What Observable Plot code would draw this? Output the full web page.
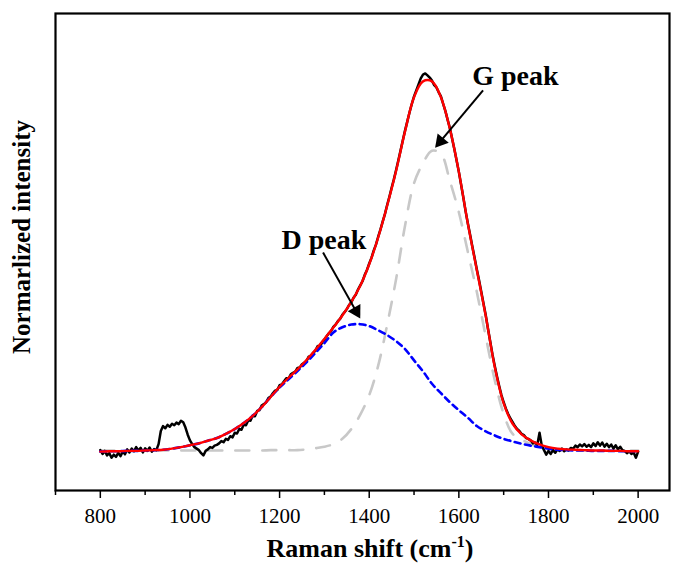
<!DOCTYPE html>
<html><head><meta charset="utf-8">
<script src="https://cdn.jsdelivr.net/npm/d3@7"></script>
<script src="https://cdn.jsdelivr.net/npm/@observablehq/plot@0.6"></script>
<style>body{margin:0;background:#fff} svg{display:block}</style>
</head><body><div id="chart"></div>
<script>
// Raman spectrum (cm-1), sampled every 5 cm-1 from 800 to 2000
const spectrumShift = d3.range(800, 2001, 5);
const spectrumIntensity = [
 0.004,-0.006,0.002,-0.010,-0.004,-0.016,-0.008,-0.014,-0.003,-0.012,
 0.000,-0.007,0.006,-0.002,0.008,0.001,0.012,0.003,0.010,-0.002,
 0.009,0.002,0.011,0.000,0.007,0.004,0.020,0.055,0.068,0.062,
 0.071,0.066,0.074,0.070,0.077,0.073,0.082,0.078,0.064,0.045,
 0.030,0.020,0.012,0.008,0.004,-0.004,-0.010,0.002,0.006,0.012,
 0.010,0.016,0.018,0.022,0.028,0.025,0.034,0.031,0.041,0.038,
 0.050,0.048,0.060,0.058,0.072,0.070,0.083,0.082,0.096,0.094,
 0.108,0.110,0.122,0.126,0.131,0.142,0.146,0.155,0.162,0.164,
 0.176,0.178,0.187,0.195,0.194,0.205,0.209,0.212,0.222,0.223,
 0.232,0.236,0.240,0.252,0.254,0.262,0.268,0.280,0.278,0.290,
 0.297,0.306,0.314,0.320,0.331,0.337,0.346,0.352,0.363,0.370,
 0.378,0.389,0.396,0.408,0.416,0.430,0.441,0.452,0.469,0.482,
 0.499,0.514,0.533,0.549,0.570,0.589,0.610,0.630,0.654,0.676,
 0.700,0.722,0.747,0.773,0.799,0.826,0.852,0.876,0.900,0.922,
 0.942,0.958,0.974,0.990,1.000,1.003,0.998,0.992,0.984,0.972,
 0.966,0.953,0.942,0.922,0.903,0.880,0.858,0.830,0.802,0.772,
 0.742,0.708,0.674,0.638,0.606,0.576,0.545,0.515,0.484,0.455,
 0.424,0.393,0.362,0.326,0.292,0.258,0.228,0.200,0.174,0.150,
 0.131,0.114,0.100,0.088,0.078,0.068,0.060,0.055,0.047,0.044,
 0.036,0.034,0.030,0.022,0.024,0.018,0.050,0.016,0.004,-0.008,
 0.002,-0.006,0.004,-0.003,0.006,0.002,0.008,0.001,0.006,0.003,
 0.010,0.008,0.016,0.012,0.019,0.014,0.020,0.013,0.018,0.012,
 0.022,0.015,0.025,0.016,0.024,0.013,0.021,0.012,0.019,0.008,
 0.017,0.006,0.013,0.004,0.002,-0.004,0.001,-0.006,-0.002,-0.016,
 0.000
];

// Fitted curves, sampled every 20 cm-1 from 800 to 2000
const fitShift = d3.range(800, 2001, 20);
const fitTotal = [
 0.000,0.001,0.001,0.002,0.002,0.003,0.004,0.005,0.008,0.012,
 0.017,0.022,0.029,0.036,0.047,0.060,0.076,0.095,0.118,0.145,
 0.172,0.196,0.218,0.243,0.270,0.299,0.329,0.361,0.397,0.440,
 0.497,0.568,0.652,0.745,0.850,0.940,0.982,0.982,0.940,0.856,
 0.742,0.605,0.482,0.360,0.225,0.128,0.074,0.046,0.030,0.019,
 0.012,0.008,0.006,0.005,0.004,0.003,0.003,0.002,0.002,0.001,
 0.001
];
const dBand = [
 0.000,0.001,0.001,0.002,0.002,0.003,0.004,0.005,0.008,0.012,
 0.017,0.022,0.029,0.036,0.047,0.060,0.076,0.095,0.118,0.145,
 0.170,0.192,0.214,0.237,0.262,0.288,0.316,0.330,0.337,0.338,
 0.333,0.322,0.309,0.293,0.272,0.242,0.213,0.180,0.155,0.131,
 0.110,0.090,0.068,0.054,0.043,0.034,0.027,0.021,0.016,0.012,
 0.008,0.005,0.004,0.003,0.003,0.002,0.002,0.002,0.001,0.001,
 0.001
];
const gBand = [
 0.003,0.003,0.003,0.003,0.003,0.003,0.003,0.003,0.003,0.003,
 0.003,0.003,0.003,0.003,0.003,0.003,0.003,0.003,0.003,0.004,
 0.004,0.004,0.004,0.006,0.009,0.013,0.020,0.034,0.060,0.098,
 0.150,0.228,0.336,0.458,0.600,0.712,0.765,0.798,0.790,0.718,
 0.635,0.530,0.424,0.305,0.190,0.100,0.047,0.032,0.020,0.012,
 0.007,0.005,0.004,0.003,0.003,0.003,0.003,0.003,0.003,0.003,
 0.003
];

// Annotations
const peakLabels = ["G peak", "D peak"];
const peakLabelX = [1726, 1299];
const peakLabelY = [0.995, 0.562];
const arrowFromX = [1654, 1297];
const arrowFromY = [0.958, 0.528];
const arrowToX = [1547, 1380];
const arrowToY = [0.806, 0.353];

const majorTicks = [800, 1000, 1200, 1400, 1600, 1800, 2000];
const minorTicks = [700, 900, 1100, 1300, 1500, 1700, 1900];

const xDomain = [700, 2070];
const yDomain = [-0.103, 1.162];
const M = {left: 55, right: 4, top: 13, bottom: 75};
const W = 673, H = 565;

const spectrum = spectrumShift.map((x, i) => ({x, y: spectrumIntensity[i]}));
const fit = fitShift.map((x, i) => ({x, total: fitTotal[i], d: dBand[i], g: gBand[i]}));

// same scales as the chart, used to orient the arrow heads
const xS = Plot.scale({x: {domain: xDomain, range: [M.left, W - M.right]}});
const yS = Plot.scale({y: {domain: yDomain, range: [H - M.bottom, M.top]}});
const HEAD = 4.2; // triangle half-size unit (px)
const notes = peakLabels.map((t, i) => {
  const px1 = xS.apply(arrowFromX[i]), py1 = yS.apply(arrowFromY[i]);
  const px2 = xS.apply(arrowToX[i]), py2 = yS.apply(arrowToY[i]);
  const L = Math.hypot(px2 - px1, py2 - py1);
  const ux = (px2 - px1) / L, uy = (py2 - py1) / L;
  return {
    t, x: peakLabelX[i], y: peakLabelY[i],
    x1: arrowFromX[i], y1: arrowFromY[i],
    x2: xS.invert(px2 - ux * 2.5 * HEAD), y2: yS.invert(py2 - uy * 2.5 * HEAD),
    hx: xS.invert(px2 - ux * 2 * HEAD), hy: yS.invert(py2 - uy * 2 * HEAD),
    angle: Math.atan2(uy, ux) * 180 / Math.PI + 90
  };
});

const serif = "'Liberation Serif','Times New Roman',serif";
const plot = Plot.plot({
  width: W, height: H,
  marginLeft: M.left, marginRight: M.right, marginTop: M.top, marginBottom: M.bottom,
  style: {fontFamily: serif, background: "white", color: "black"},
  x: {domain: xDomain},
  y: {domain: yDomain, axis: null},
  marks: [
    Plot.line(fit, {x: "x", y: "g", stroke: "#c8c8c8", strokeWidth: 2.6, strokeDasharray: "14,13", curve: "catmull-rom"}),
    Plot.line(spectrum, {x: "x", y: "y", stroke: "black", strokeWidth: 2.5}),
    Plot.line(fit, {x: "x", y: "d", stroke: "#0000ff", strokeWidth: 2.6, strokeDasharray: "6,4.5", curve: "catmull-rom"}),
    Plot.line(fit, {x: "x", y: "total", stroke: "#ff0000", strokeWidth: 2.4, curve: "catmull-rom"}),
    Plot.link(notes, {x1: "x1", y1: "y1", x2: "x2", y2: "y2", stroke: "black", strokeWidth: 2}),
    Plot.dot(notes, {x: "hx", y: "hy", symbol: "triangle", r: Math.sqrt(3 * Math.sqrt(3) * HEAD * HEAD / Math.PI), rotate: "angle", fill: "black", stroke: "none"}),
    Plot.text(notes, {x: "x", y: "y", text: "t", fontSize: 28, fontWeight: "bold", fill: "black", lineAnchor: "middle"}),
    Plot.axisX({ticks: minorTicks, tickSize: 5, tickFormat: () => "", label: null, strokeWidth: 1.5}),
    Plot.axisX({ticks: majorTicks, tickSize: 8, tickPadding: 10, fontSize: 21, tickFormat: d => String(d), label: null, strokeWidth: 1.5}),
    Plot.frame({stroke: "black", strokeWidth: 2.2})
  ]
});
document.getElementById("chart").appendChild(plot);

const svg = d3.select(plot);
// y-axis title
svg.append("text")
  .attr("transform", "translate(21,237) rotate(-90)")
  .attr("text-anchor", "middle").attr("dominant-baseline", "central")
  .attr("font-family", serif).attr("font-weight", "bold").attr("font-size", 25)
  .attr("fill", "black")
  .text("Normarlized intensity");
// x-axis title with superscript
const title = svg.append("text")
  .attr("x", 370).attr("y", 557)
  .attr("text-anchor", "middle")
  .attr("font-family", serif).attr("font-weight", "bold").attr("font-size", 26)
  .attr("fill", "black");
title.append("tspan").text("Raman shift (cm");
title.append("tspan").attr("dy", -10).attr("font-size", 16).text("-1");
title.append("tspan").attr("dy", 10).text(")");
</script>
</body></html>
